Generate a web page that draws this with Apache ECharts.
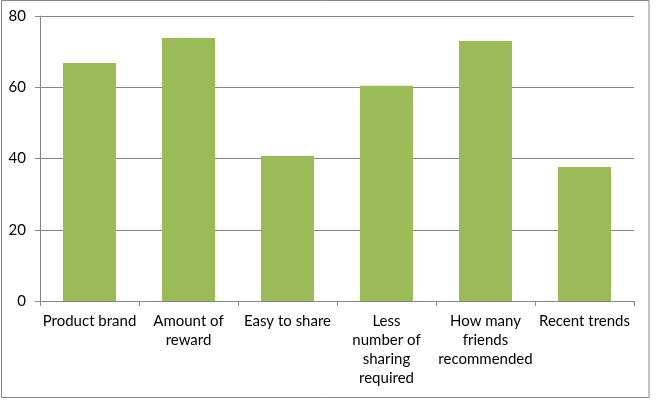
<!DOCTYPE html>
<html lang="en">
<head>
    <meta charset="utf-8">
    <title>Sharing factors</title>
    <script src="https://cdn.jsdelivr.net/npm/echarts@6/dist/echarts.min.js"></script>
    <style>
        html, body { margin: 0; padding: 0; background: #fff; }
    </style>
</head>
<body>

<div id="main" style="width:656px;height:406px;"></div>

<script type="text/javascript">

    var categories = ['Product brand', 'Amount of\nreward', 'Easy to share',
        'Less\nnumber of\nsharing\nrequired', 'How many\nfriends\nrecommended', 'Recent trends'];
    var values = [66.8, 73.8, 40.7, 60.4, 73.0, 37.6];
    var yTicks = [0, 20, 40, 60, 80];

    var myChart = echarts.init(document.getElementById('main'));
    var lineColor = '#868686';
    var font = 'Lato, "Open Sans", sans-serif';

    option = {
        animation: false,
        backgroundColor: '#ffffff',
        graphic: [{
            type: 'rect',
            shape: { x: 1.5, y: 0.5, width: 647.5, height: 397 },
            style: { fill: 'none', stroke: lineColor, lineWidth: 1 }
        }],
        grid: {
            left: 40,
            right: 22,
            top: 16,
            bottom: 105,
            containLabel: false
        },
        xAxis: {
            type: 'category',
            data: categories,
            axisLine: { show: true, lineStyle: { color: lineColor, width: 1 } },
            axisTick: { show: true, length: 5, alignWithLabel: false, lineStyle: { color: lineColor } },
            axisLabel: {
                interval: 0,
                margin: 11,
                color: '#000',
                fontSize: 15,
                lineHeight: 19,
                fontFamily: font
            },
            splitLine: { show: false }
        },
        yAxis: {
            type: 'value',
            min: yTicks[0],
            max: yTicks[yTicks.length - 1],
            interval: 20,
            axisLine: { show: true, lineStyle: { color: lineColor, width: 1 } },
            axisTick: { show: true, length: 5, lineStyle: { color: lineColor } },
            axisLabel: {
                margin: 14,
                color: '#000',
                fontSize: 15,
                fontFamily: font
            },
            splitLine: { show: true, lineStyle: { color: lineColor, width: 1 } }
        },
        series: [{
            type: 'bar',
            data: values,
            barWidth: 53,
            itemStyle: { color: '#9BBB59' }
        }]
    };

    myChart.setOption(option);

</script>

</body>
</html>
